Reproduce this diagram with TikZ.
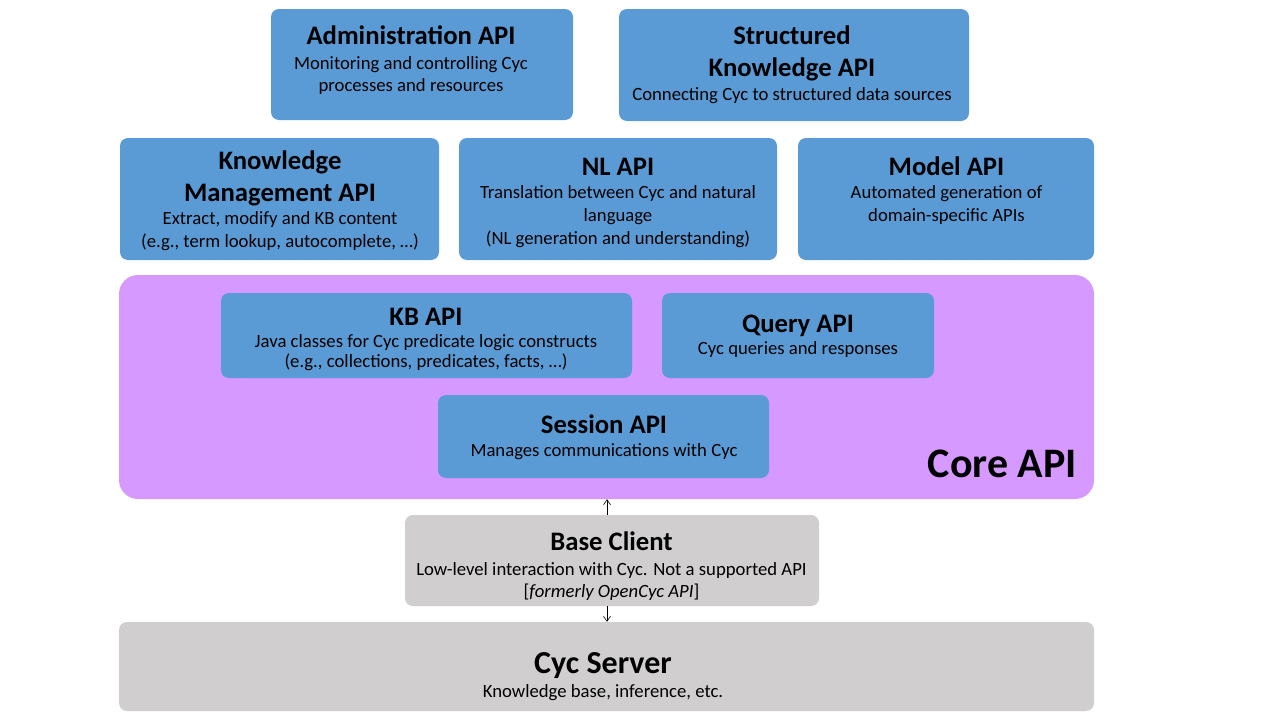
\documentclass[tikz,border=0pt]{standalone}
\usepackage{fontspec}
\setmainfont{Carlito}
\usetikzlibrary{arrows.meta}
\begin{document}
\begin{tikzpicture}[x=1pt,y=-1pt,
  box/.style={draw=none,rounded corners=8pt,inner sep=0pt},
  bluebox/.style={box,fill=blueC},
  graybox/.style={box,fill=grayC},
  ttl/.style={anchor=base,inner sep=0pt,font=\fontsize{26.7}{30}\selectfont\bfseries},
  sub/.style={anchor=base,inner sep=0pt,font=\fontsize{18.7}{22}\selectfont},
  arr/.style={->,>={Straight Barb[length=5pt,width=7pt]},line width=0.6pt}]
\definecolor{blueC}{HTML}{5B9BD5}
\definecolor{grayC}{HTML}{D0CECE}
\definecolor{purpC}{HTML}{D599FF}
\useasboundingbox (0,0) rectangle (1280,720);
\fill[white] (0,0) rectangle (1280,720);
\newcommand{\bx}[6]{\node[#6,minimum width=#4pt-#2pt,minimum height=#5pt-#3pt] (#1) at ({(#2+#4)/2},{(#3+#5)/2}) {};}
% boxes
\bx{admin}{271}{9}{573}{120}{bluebox}
\bx{struct}{619}{9}{969}{121}{bluebox}
\bx{km}{120}{138}{439}{260}{bluebox}
\bx{nl}{459}{138}{777}{260}{bluebox}
\bx{model}{798}{138}{1094}{260}{bluebox}
\node[box,fill=purpC,rounded corners=19pt,minimum width=975pt,minimum height=224pt] (core) at (606.5,387) {};
\bx{kb}{221}{293}{632}{378}{bluebox}
\bx{query}{662}{293}{934}{378}{bluebox}
\bx{session}{438}{395}{769}{478}{bluebox}
\bx{base}{405}{515}{819}{606}{graybox}
\bx{cyc}{119}{622}{1094}{711}{graybox}
% Administration API
\node[ttl] (admin1) at (411,44) {Administration API};
\node[sub] (admin2) at (411,69) {Monitoring and controlling Cyc};
\node[sub] (admin3) at (411,91) {processes and resources};
% Structured Knowledge API
\node[ttl] (struct1) at (792,44) {Structured};
\node[ttl] (struct2) at (792,76) {Knowledge API};
\node[sub] (struct3) at (792,100) {Connecting Cyc to structured data sources};
% Knowledge Management API
\node[ttl] (km1) at (280,169) {Knowledge};
\node[ttl] (km2) at (280,201) {Management API};
\node[sub] (km3) at (280,224.5) {Extract, modify and KB content};
\node[sub] (km4) at (280,247) {(e.g., term lookup, autocomplete, …)};
% NL API
\node[ttl] (nl1) at (618,175) {NL API};
\node[sub] (nl2) at (618,198) {Translation between Cyc and natural};
\node[sub] (nl3) at (618,221) {language};
\node[sub] (nl4) at (618,244) {(NL generation and understanding)};
% Model API
\node[ttl] (model1) at (946.5,175) {Model API};
\node[sub] (model2) at (946.5,198) {Automated generation of};
\node[sub] (model3) at (946.5,221) {domain-specific APIs};
% KB API
\node[ttl] (kb1) at (426,325.5) {KB API};
\node[sub] (kb2) at (426,347.5) {Java classes for Cyc predicate logic constructs};
\node[sub] (kb3) at (426,367) {(e.g., collections, predicates, facts, …)};
% Query API
\node[ttl] (query1) at (798,332) {Query API};
\node[sub] (query2) at (798,354) {Cyc queries and responses};
% Session API
\node[ttl] (session1) at (604,433) {Session API};
\node[sub] (session2) at (604,456) {Manages communications with Cyc};
% Core label
\node[inner sep=0pt,anchor=base east,font=\fontsize{42}{44}\selectfont\bfseries] (corel) at (1077,477) {Core API};
% Base Client
\node[ttl] (base1) at (611.5,550.5) {Base Client};
\node[sub] (base2) at (611.5,575.5) {Low-level interaction with Cyc. Not a supported API};
\node[sub] (base3) at (611.5,597.5) {[\textit{formerly OpenCyc API}]};
% Cyc Server
\node[ttl,font=\fontsize{32}{34}\selectfont\bfseries] (cyc1) at (603,673) {Cyc Server};
\node[sub] (cyc2) at (603,697) {Knowledge base, inference, etc.};
% connectors
\draw[arr] (base.north -| 607,0) -- (core.south -| 607,0);
\draw[arr] (base.south -| 607,0) -- (cyc.north -| 607,0);
\end{tikzpicture}
\end{document}
